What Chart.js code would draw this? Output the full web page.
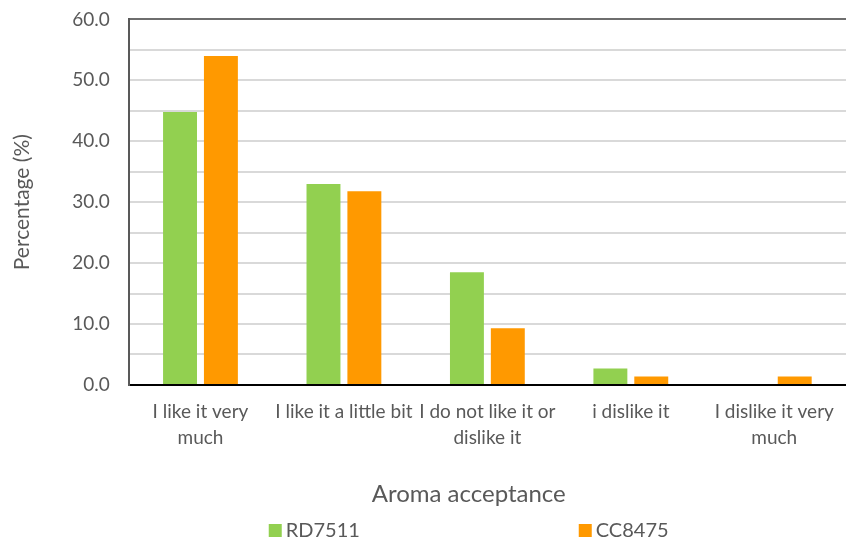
<!DOCTYPE html>
<html>
<head>
<meta charset="utf-8">
<script src="https://cdn.jsdelivr.net/npm/chart.js@4"></script>
<style>
  html, body { margin: 0; padding: 0; background: #fff; }
  #wrap { width: 846px; height: 543px; }
</style>
</head>
<body>
<div id="wrap"><canvas id="aromaChart"></canvas></div>
<script>
// Aroma acceptance survey, percentage of answers per sample
var categories = [
  ["I like it very", "much"],
  "I like it a little bit",
  ["I do not like it or", "dislike it"],
  "i dislike it",
  ["I dislike it very", "much"]
];
var rd7511 = [44.8, 33.0, 18.5, 2.7, 0.0];
var cc8475 = [54.0, 31.8, 9.3, 1.4, 1.4];
var yTicks = [0, 10, 20, 30, 40, 50, 60];

var FONT = "Lato, 'Open Sans', sans-serif";
var TEXT = "#595959";

// bottom legend and axis title, laid out like the spreadsheet version
var bottomText = {
  id: "bottomText",
  afterDraw: function (chart) {
    var c = chart.ctx;
    var area = chart.chartArea;
    var cx = area.left + 340;
    c.save();
    c.fillStyle = TEXT;
    c.font = "24px " + FONT;
    c.textAlign = "center";
    c.textBaseline = "middle";
    c.fillText("Aroma acceptance", cx, 494);

    c.font = "20px " + FONT;
    c.textAlign = "left";
    var sets = chart.data.datasets;
    var xs = [cx - 200, cx + 110];
    sets.forEach(function (ds, i) {
      c.fillStyle = ds.backgroundColor;
      c.fillRect(xs[i], 524, 13, 13);
      c.fillStyle = TEXT;
      c.fillText(ds.label, xs[i] + 17, 531);
    });
    c.restore();
  }
};

new Chart(document.getElementById("aromaChart"), {
  type: "bar",
  data: {
    labels: categories,
    datasets: [
      {
        label: "RD7511",
        data: rd7511,
        backgroundColor: "#92d050",
        barPercentage: 0.83,
        categoryPercentage: 0.57
      },
      {
        label: "CC8475",
        data: cc8475,
        backgroundColor: "#ff9900",
        barPercentage: 0.83,
        categoryPercentage: 0.57
      }
    ]
  },
  options: {
    responsive: true,
    maintainAspectRatio: false,
    animation: false,
    layout: { padding: { top: 2, right: -2, bottom: 86, left: 10 } },
    plugins: {
      legend: { display: false },
      tooltip: { enabled: false }
    },
    scales: {
      x: {
        grid: { display: false },
        border: { color: "#000", width: 2 },
        ticks: {
          color: TEXT,
          font: { family: FONT, size: 19, lineHeight: 1.37 },
          maxRotation: 0,
          autoSkip: false,
          padding: 6
        }
      },
      y: {
        min: 0,
        max: 60,
        afterBuildTicks: function (axis) {
          // minor grid every 5, labels every 10
          var t = [];
          for (var v = 0; v <= 60; v += 5) t.push({ value: v });
          axis.ticks = t;
        },
        ticks: {
          color: TEXT,
          font: { family: FONT, size: 19 },
          padding: 8,
          callback: function (v) {
            return yTicks.indexOf(v) >= 0 ? v.toFixed(1) : "";
          }
        },
        grid: {
          drawTicks: true,
          tickLength: 11,
          tickColor: "rgba(0,0,0,0)",
          lineWidth: 2,
          color: function (ctx) {
            return ctx.tick && ctx.tick.value === 60 ? "#6e6e6e" : "#d9d9d9";
          }
        },
        border: { color: "#595959", width: 2 },
        title: {
          display: true,
          text: "Percentage (%)",
          color: TEXT,
          font: { family: FONT, size: 21 },
          padding: { top: 0, bottom: 29 }
        }
      }
    }
  },
  plugins: [bottomText]
});
</script>
</body>
</html>
